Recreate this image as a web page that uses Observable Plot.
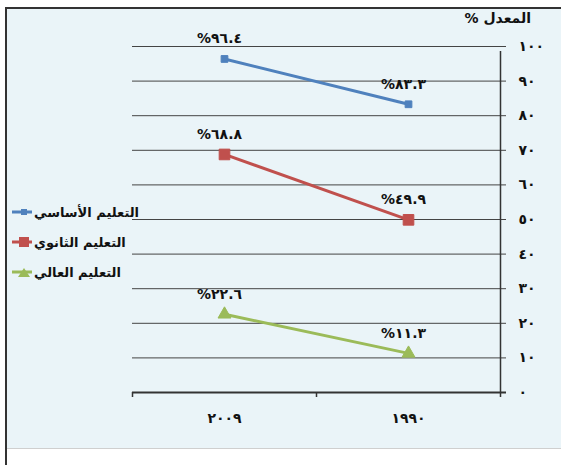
<!DOCTYPE html>
<html><head><meta charset="utf-8">
<script src="https://cdn.jsdelivr.net/npm/d3@7"></script>
<script src="https://cdn.jsdelivr.net/npm/@observablehq/plot@0.6"></script>
<style>
body{margin:0;width:561px;height:465px;position:relative;overflow:hidden;background:#fff;font-family:"DejaVu Sans",sans-serif;}
#bg{position:absolute;left:5px;top:7px;width:556px;height:442px;background:#eaf4f8;border-top:2px solid #333;border-bottom:1px solid #cfcfcf;box-sizing:border-box}
#lb{position:absolute;left:5px;top:7px;width:2px;height:458px;background:#333}
#chart{position:absolute;left:0;top:0}
#title{position:absolute;right:30px;top:10px;direction:rtl;font-weight:bold;font-size:14px;color:#111}
#legend{position:absolute;left:11px;top:197px}
.item{display:flex;align-items:center;height:30px;font-weight:bold;font-size:13px;color:#111}
.item svg{margin-right:1px}
</style></head>
<body>
<div id="bg"></div><div id="lb"></div>
<div id="chart"></div>
<div id="title">المعدل %</div>
<div id="legend"></div>
<script>
const categories = ["٢٠٠٩", "١٩٩٠"];
const seriesNames = ["التعليم الأساسي", "التعليم الثانوي", "التعليم العالي"];
const basicValues = [96.4, 83.3];
const secondaryValues = [68.8, 49.9];
const higherValues = [22.6, 11.3];
const yTicks = [0, 10, 20, 30, 40, 50, 60, 70, 80, 90, 100];
const colors = ["#4f81bd", "#c0504d", "#9bbb59"];
const symbols = ["square", "square", "triangle"];
const symbolR = [3.8, 6, 4.8];

const digits = "٠١٢٣٤٥٦٧٨٩";
const ar = (v) => String(v).replace(/\d/g, d => digits[d]);

const allValues = [basicValues, secondaryValues, higherValues];
const rows = [];
seriesNames.forEach((s, si) => categories.forEach((c, ci) => rows.push({series: s, si, cat: c, value: allValues[si][ci]})));

const W = 561, H = 465, mL = 132, mR = 61, mT = 46, mB = 73;
const bw = (W - mL - mR) / categories.length;

const marks = [
  Plot.ruleY(yTicks.filter(t => t > 0), {y: d => d, stroke: "#444", strokeWidth: 1, insetRight: -6}),
  Plot.ruleY([0], {y: d => d, stroke: "#333", strokeWidth: 2, insetRight: -6}),
  Plot.ruleX([categories[categories.length - 1]], {x: d => d, y1: 0, y2: 100, dx: bw / 2, stroke: "#333", strokeWidth: 1.5, insetBottom: -5}),
  Plot.axisY({anchor: "right", label: null, ticks: yTicks, tickSize: 0, tickPadding: 18, tickFormat: ar, fontWeight: "bold", fontSize: 14, fill: "#111"}),
  Plot.axisX({label: null, tickSize: 5, tickFormat: () => "", dx: -bw / 2, stroke: "#333", strokeWidth: 1.5}),
  Plot.axisX([categories[categories.length - 1]], {label: null, tickSize: 5, tickFormat: () => "", dx: bw / 2, stroke: "#333", strokeWidth: 1.5}),
  Plot.axisX({label: null, tickSize: 0, tickPadding: 21, fontWeight: "bold", fontSize: 14, fill: "#111"})
];
seriesNames.forEach((s, si) => {
  const d = rows.filter(r => r.si === si);
  marks.push(Plot.line(d, {x: "cat", y: "value", stroke: colors[si], strokeWidth: 3}));
  marks.push(Plot.dot(d, {x: "cat", y: "value", fill: colors[si], stroke: colors[si], strokeWidth: 1, symbol: symbols[si], r: symbolR[si]}));
});
marks.push(Plot.text(rows, {x: "cat", y: "value", text: r => "%" + ar(r.value), dy: -20, dx: -5, fontWeight: "bold", fontSize: 14, fill: "#111"}));

const chart = Plot.plot({
  width: W, height: H,
  marginLeft: mL, marginRight: mR, marginTop: mT, marginBottom: mB,
  style: {background: "transparent", fontFamily: "DejaVu Sans, sans-serif"},
  x: {type: "band", domain: categories, padding: 0, axis: null},
  y: {domain: [0, 100], axis: null},
  marks
});
document.getElementById("chart").append(chart);

const legend = document.getElementById("legend");
seriesNames.forEach((s, si) => {
  const item = document.createElement("div");
  item.className = "item";
  const sym = si === 2
    ? `<path d="M13 2 L19 11 L7 11 Z" fill="${colors[si]}"/>`
    : si === 1 ? `<rect x="8" y="1" width="10" height="10" fill="${colors[si]}"/>` : `<rect x="10" y="3" width="6" height="6" fill="${colors[si]}"/>`;
  item.innerHTML = `<svg width="22" height="12"><line x1="1" x2="21" y1="6" y2="6" stroke="${colors[si]}" stroke-width="3"/>${sym}</svg><span dir="rtl">${s}</span>`;
  legend.append(item);
});
</script>
</body></html>
